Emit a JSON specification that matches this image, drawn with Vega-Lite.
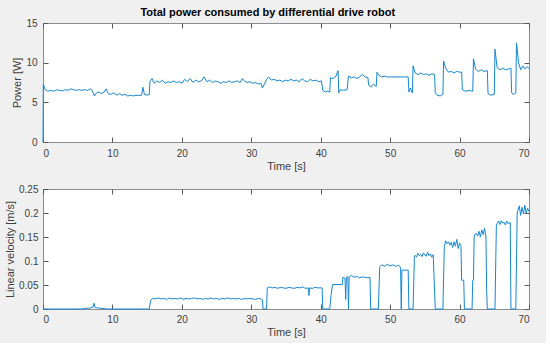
{
  "$schema": "https://vega.github.io/schema/vega-lite/v6.json",
  "background": "#f0f0f0",
  "padding": {"left": 4, "top": 6, "right": 14, "bottom": 5},
  "title": {"text": "Total power consumed by differential drive robot", "fontSize": 11, "font": "Liberation Sans", "fontWeight": "bold", "color": "#000000", "offset": 0, "anchor": "middle"},
  "config": {
    "view": {"fill": "white", "stroke": "#8c8c8c", "strokeWidth": 1},
    "axis": {"grid": false, "domain": false, "tickColor": "#595959", "tickSize": -5, "labelFont": "Liberation Sans", "labelFontSize": 10, "labelColor": "#404040", "titleFont": "Liberation Sans", "titleFontSize": 11, "titleFontWeight": "normal", "titleColor": "#404040"},
    "line": {"color": "#1586d4", "strokeWidth": 1}
  },
  "datasets": {
    "power": [
      {"t":0,"p":0},{"t":0.05,"p":7.3},{"t":0.3,"p":6.6},{"t":0.7,"p":6.4},{"t":1.2,"p":6.5},{"t":1.6,"p":6.4},{"t":2.0,"p":6.6},{"t":2.4,"p":6.5},{"t":2.8,"p":6.45},{"t":3.2,"p":6.6},{"t":3.6,"p":6.5},{"t":4.0,"p":6.7},{"t":4.4,"p":6.6},{"t":4.8,"p":6.5},{"t":5.2,"p":6.6},{"t":5.6,"p":6.5},{"t":6.0,"p":6.6},{"t":6.4,"p":6.5},{"t":6.8,"p":6.7},{"t":7.1,"p":6.5},{"t":7.4,"p":5.8},{"t":7.7,"p":6.2},{"t":8.0,"p":6.3},{"t":8.4,"p":6.1},{"t":8.8,"p":6.3},{"t":9.1,"p":6.7},{"t":9.4,"p":6.1},{"t":9.8,"p":6.0},{"t":10.2,"p":6.2},{"t":10.6,"p":5.9},{"t":11.0,"p":6.1},{"t":11.4,"p":5.9},{"t":11.8,"p":6.0},{"t":12.2,"p":5.8},{"t":12.6,"p":5.9},{"t":13.0,"p":5.8},{"t":13.4,"p":5.9},{"t":13.8,"p":5.85},{"t":14.2,"p":5.9},{"t":14.4,"p":6.9},{"t":14.6,"p":6.0},{"t":15.0,"p":5.9},{"t":15.3,"p":6.0},{"t":15.4,"p":7.6},{"t":15.7,"p":8.0},{"t":16.0,"p":7.4},{"t":16.4,"p":7.7},{"t":16.8,"p":7.5},{"t":17.2,"p":7.8},{"t":17.6,"p":7.4},{"t":18.0,"p":7.6},{"t":18.4,"p":7.5},{"t":18.8,"p":7.7},{"t":19.2,"p":7.5},{"t":19.6,"p":7.6},{"t":20.0,"p":7.4},{"t":20.4,"p":7.9},{"t":20.8,"p":7.6},{"t":21.2,"p":8.0},{"t":21.6,"p":7.5},{"t":22.0,"p":7.8},{"t":22.4,"p":7.6},{"t":22.8,"p":7.7},{"t":23.2,"p":8.2},{"t":23.6,"p":7.6},{"t":24.0,"p":7.8},{"t":24.4,"p":7.5},{"t":24.8,"p":7.7},{"t":25.2,"p":7.6},{"t":25.6,"p":7.4},{"t":26.0,"p":7.6},{"t":26.4,"p":7.5},{"t":26.8,"p":7.7},{"t":27.2,"p":7.5},{"t":27.6,"p":7.6},{"t":28.0,"p":7.7},{"t":28.4,"p":7.5},{"t":28.7,"p":8.0},{"t":29.0,"p":7.7},{"t":29.4,"p":7.5},{"t":29.8,"p":7.6},{"t":30.2,"p":7.4},{"t":30.6,"p":7.5},{"t":31.0,"p":7.3},{"t":31.4,"p":7.4},{"t":31.6,"p":6.8},{"t":31.9,"p":7.3},{"t":32.2,"p":7.9},{"t":32.5,"p":8.2},{"t":32.9,"p":7.8},{"t":33.3,"p":7.9},{"t":33.7,"p":7.7},{"t":34.1,"p":7.8},{"t":34.5,"p":7.6},{"t":34.9,"p":7.8},{"t":35.3,"p":7.7},{"t":35.7,"p":7.9},{"t":36.1,"p":7.7},{"t":36.5,"p":7.8},{"t":36.9,"p":7.6},{"t":37.3,"p":8.0},{"t":37.7,"p":7.7},{"t":38.1,"p":7.6},{"t":38.5,"p":7.9},{"t":38.9,"p":7.7},{"t":39.3,"p":7.8},{"t":39.7,"p":7.6},{"t":40.1,"p":7.7},{"t":40.3,"p":6.5},{"t":40.7,"p":6.3},{"t":41.0,"p":6.4},{"t":41.3,"p":6.3},{"t":41.4,"p":8.1},{"t":41.8,"p":8.0},{"t":42.2,"p":8.3},{"t":42.5,"p":9.0},{"t":42.6,"p":6.2},{"t":42.8,"p":6.6},{"t":43.3,"p":6.5},{"t":43.8,"p":6.6},{"t":44.0,"p":8.3},{"t":44.4,"p":8.1},{"t":44.8,"p":8.2},{"t":45.2,"p":8.0},{"t":45.6,"p":8.2},{"t":46.0,"p":8.5},{"t":46.4,"p":8.2},{"t":46.8,"p":8.1},{"t":46.9,"p":7.2},{"t":47.2,"p":6.9},{"t":47.6,"p":7.3},{"t":48.0,"p":7.0},{"t":48.1,"p":8.8},{"t":48.4,"p":8.4},{"t":48.8,"p":8.2},{"t":49.2,"p":8.3},{"t":49.6,"p":8.2},{"t":50.0,"p":8.2},{"t":51.0,"p":8.2},{"t":52.0,"p":8.2},{"t":52.6,"p":8.2},{"t":52.7,"p":6.3},{"t":52.9,"p":6.8},{"t":53.2,"p":6.2},{"t":53.3,"p":9.6},{"t":53.6,"p":8.7},{"t":54.0,"p":8.5},{"t":54.4,"p":8.7},{"t":54.8,"p":8.5},{"t":55.2,"p":8.6},{"t":55.6,"p":8.4},{"t":56.0,"p":8.6},{"t":56.4,"p":8.5},{"t":56.5,"p":6.2},{"t":56.8,"p":5.9},{"t":57.2,"p":5.8},{"t":57.6,"p":6.0},{"t":57.7,"p":10.2},{"t":58.0,"p":9.3},{"t":58.4,"p":8.8},{"t":58.8,"p":8.9},{"t":59.2,"p":8.7},{"t":59.6,"p":8.9},{"t":60.0,"p":8.8},{"t":60.3,"p":8.8},{"t":60.4,"p":6.6},{"t":60.8,"p":6.4},{"t":61.4,"p":6.5},{"t":61.9,"p":6.4},{"t":62.0,"p":10.5},{"t":62.3,"p":9.2},{"t":62.7,"p":8.9},{"t":63.1,"p":9.1},{"t":63.5,"p":8.9},{"t":64.0,"p":9.0},{"t":64.1,"p":6.1},{"t":64.5,"p":5.9},{"t":65.0,"p":6.0},{"t":65.1,"p":11.7},{"t":65.4,"p":9.4},{"t":65.8,"p":9.1},{"t":66.2,"p":9.3},{"t":66.6,"p":9.1},{"t":67.0,"p":9.2},{"t":67.4,"p":9.3},{"t":67.5,"p":6.2},{"t":67.8,"p":6.0},{"t":68.1,"p":6.2},{"t":68.2,"p":12.5},{"t":68.5,"p":10.0},{"t":68.8,"p":9.1},{"t":69.1,"p":9.6},{"t":69.4,"p":9.2},{"t":69.7,"p":9.5},{"t":70.0,"p":9.3}
    ],
    "vel": [
      {"t":0,"v":0},{"t":5.5,"v":0},{"t":6.0,"v":0.001},{"t":6.8,"v":0.002},{"t":7.2,"v":0.004},{"t":7.35,"v":0.012},{"t":7.5,"v":0.003},{"t":8.0,"v":0.002},{"t":8.8,"v":0.001},{"t":9.2,"v":0},{"t":15.3,"v":0},{"t":15.5,"v":0.018},
      {"t":15.8,"v":0.022},{"t":16.2,"v":0.021},{"t":16.6,"v":0.023},{"t":17.0,"v":0.021},{"t":17.4,"v":0.022},{"t":17.8,"v":0.020},{"t":18.2,"v":0.023},{"t":18.6,"v":0.021},{"t":19.0,"v":0.022},{"t":19.4,"v":0.021},{"t":19.8,"v":0.023},{"t":20.2,"v":0.020},{"t":20.6,"v":0.022},{"t":21.0,"v":0.021},{"t":21.4,"v":0.022},{"t":21.8,"v":0.023},{"t":22.2,"v":0.021},{"t":22.6,"v":0.022},{"t":23.0,"v":0.020},{"t":23.4,"v":0.022},{"t":23.8,"v":0.021},{"t":24.2,"v":0.023},{"t":24.6,"v":0.021},{"t":25.0,"v":0.022},{"t":25.4,"v":0.020},{"t":25.8,"v":0.022},{"t":26.2,"v":0.021},{"t":26.6,"v":0.023},{"t":27.0,"v":0.021},{"t":27.4,"v":0.022},{"t":27.8,"v":0.021},{"t":28.2,"v":0.022},{"t":28.6,"v":0.020},{"t":29.0,"v":0.022},{"t":29.4,"v":0.021},{"t":29.8,"v":0.022},{"t":30.2,"v":0.021},{"t":30.6,"v":0.020},{"t":31.0,"v":0.022},{"t":31.4,"v":0.021},{"t":31.6,"v":0.019},{"t":31.7,"v":0},{"t":32.2,"v":0},{"t":32.3,"v":0.044},
      {"t":32.6,"v":0.046},{"t":33.0,"v":0.044},{"t":33.4,"v":0.045},{"t":33.8,"v":0.043},{"t":34.2,"v":0.045},{"t":34.6,"v":0.044},{"t":35.0,"v":0.043},{"t":35.4,"v":0.045},{"t":35.8,"v":0.044},{"t":36.2,"v":0.043},{"t":36.6,"v":0.045},{"t":37.0,"v":0.044},{"t":37.4,"v":0.046},{"t":37.8,"v":0.043},{"t":38.2,"v":0.044},{"t":38.3,"v":0.028},{"t":38.4,"v":0.044},{"t":38.8,"v":0.043},{"t":39.2,"v":0.045},{"t":39.6,"v":0.044},{"t":40.2,"v":0.044},{"t":40.3,"v":0},{"t":41.3,"v":0},{"t":41.5,"v":0.03},{"t":41.7,"v":0.051},{"t":43.1,"v":0.051},{"t":43.2,"v":0.066},{"t":43.5,"v":0.064},{"t":43.6,"v":0.02},{"t":43.7,"v":0.066},{"t":43.9,"v":0.068},{"t":44.0,"v":0},{"t":44.1,"v":0.066},{"t":44.4,"v":0.07},{"t":44.8,"v":0.066},{"t":45.2,"v":0.068},{"t":45.6,"v":0.065},{"t":46.0,"v":0.067},{"t":46.4,"v":0.066},{"t":46.8,"v":0.065},{"t":47.1,"v":0.066},{"t":47.2,"v":0},{"t":48.3,"v":0},{"t":48.5,"v":0.088},{"t":48.8,"v":0.092},{"t":49.2,"v":0.089},{"t":49.6,"v":0.093},{"t":50.0,"v":0.09},{"t":50.4,"v":0.092},{"t":50.8,"v":0.089},{"t":51.2,"v":0.091},{"t":51.4,"v":0.089},{"t":51.5,"v":0.085},{"t":51.6,"v":0},{"t":51.7,"v":0.081},{"t":52.6,"v":0.081},{"t":52.7,"v":0},{"t":53.3,"v":0},{"t":53.5,"v":0.11},
      {"t":53.6,"v":0.112},{"t":53.8,"v":0.108},{"t":54.0,"v":0.116},{"t":54.2,"v":0.111},{"t":54.4,"v":0.114},{"t":54.6,"v":0.109},{"t":54.8,"v":0.117},{"t":55.0,"v":0.112},{"t":55.2,"v":0.110},{"t":55.4,"v":0.118},{"t":55.6,"v":0.111},{"t":55.8,"v":0.115},{"t":56.0,"v":0.108},{"t":56.2,"v":0.113},{"t":56.5,"v":0},{"t":57.6,"v":0},{"t":57.8,"v":0.13},
      {"t":58.0,"v":0.142},{"t":58.2,"v":0.136},{"t":58.4,"v":0.14},{"t":58.6,"v":0.133},{"t":58.8,"v":0.139},{"t":59.0,"v":0.128},{"t":59.2,"v":0.140},{"t":59.4,"v":0.131},{"t":59.6,"v":0.145},{"t":59.8,"v":0.126},{"t":60.0,"v":0.137},{"t":60.2,"v":0.132},{"t":60.3,"v":0.06},{"t":60.6,"v":0.06},{"t":60.7,"v":0},{"t":61.8,"v":0},{"t":61.9,"v":0.06},{"t":62.0,"v":0.06},{"t":62.1,"v":0.15},
      {"t":62.2,"v":0.155},{"t":62.4,"v":0.158},{"t":62.6,"v":0.152},{"t":62.8,"v":0.162},{"t":63.0,"v":0.150},{"t":63.2,"v":0.165},{"t":63.4,"v":0.155},{"t":63.6,"v":0.168},{"t":63.8,"v":0.150},{"t":63.9,"v":0.04},{"t":64.0,"v":0},{"t":65.1,"v":0},{"t":65.3,"v":0.175},
      {"t":65.4,"v":0.178},{"t":65.6,"v":0.183},{"t":65.8,"v":0.176},{"t":66.0,"v":0.184},{"t":66.2,"v":0.179},{"t":66.4,"v":0.181},{"t":66.6,"v":0.175},{"t":66.8,"v":0.183},{"t":67.0,"v":0.178},{"t":67.3,"v":0.18},{"t":67.4,"v":0},{"t":68.1,"v":0},{"t":68.3,"v":0.2},
      {"t":68.4,"v":0.205},{"t":68.6,"v":0.215},{"t":68.8,"v":0.195},{"t":69.0,"v":0.212},{"t":69.2,"v":0.198},{"t":69.4,"v":0.216},{"t":69.6,"v":0.2},{"t":69.8,"v":0.21},{"t":70.0,"v":0.203}
    ]
  },
  "spacing": 11,
  "vconcat": [
    {
      "width": 486, "height": 119,
      "data": {"name": "power"},
      "layer": [
        {"mark": {"type": "line"},
         "encoding": {
           "x": {"field": "t", "type": "quantitative", "scale": {"domain": [0, 70]}, "axis": {"values": [0,10,20,30,40,50,60,70], "title": "Time [s]", "labelPadding": 11, "titlePadding": 2}},
           "y": {"field": "p", "type": "quantitative", "scale": {"domain": [0, 15]}, "axis": {"values": [0,5,10,15], "title": "Power [W]", "labelPadding": 11, "titlePadding": 3}}
         }},
        {"mark": {"type": "line", "opacity": 0},
         "encoding": {
           "x": {"field": "t", "type": "quantitative", "scale": {"domain": [0, 70]}, "axis": {"orient": "top", "values": [0,10,20,30,40,50,60,70], "labels": false, "title": null}},
           "y": {"field": "p", "type": "quantitative", "scale": {"domain": [0, 15]}, "axis": {"orient": "right", "values": [0,5,10,15], "labels": false, "title": null}}
         }}
      ],
      "resolve": {"axis": {"x": "independent", "y": "independent"}}
    },
    {
      "width": 486, "height": 120,
      "data": {"name": "vel"},
      "layer": [
        {"mark": {"type": "line"},
         "encoding": {
           "x": {"field": "t", "type": "quantitative", "scale": {"domain": [0, 70]}, "axis": {"values": [0,10,20,30,40,50,60,70], "title": "Time [s]", "labelPadding": 10, "titlePadding": 2}},
           "y": {"field": "v", "type": "quantitative", "scale": {"domain": [0, 0.25]}, "axis": {"values": [0,0.05,0.1,0.15,0.2,0.25], "format": "~g", "title": "Linear velocity [m/s]", "labelPadding": 10, "titlePadding": 3}}
         }},
        {"mark": {"type": "line", "opacity": 0},
         "encoding": {
           "x": {"field": "t", "type": "quantitative", "scale": {"domain": [0, 70]}, "axis": {"orient": "top", "values": [0,10,20,30,40,50,60,70], "labels": false, "title": null}},
           "y": {"field": "v", "type": "quantitative", "scale": {"domain": [0, 0.25]}, "axis": {"orient": "right", "values": [0,0.05,0.1,0.15,0.2,0.25], "labels": false, "title": null}}
         }}
      ],
      "resolve": {"axis": {"x": "independent", "y": "independent"}}
    }
  ]
}
